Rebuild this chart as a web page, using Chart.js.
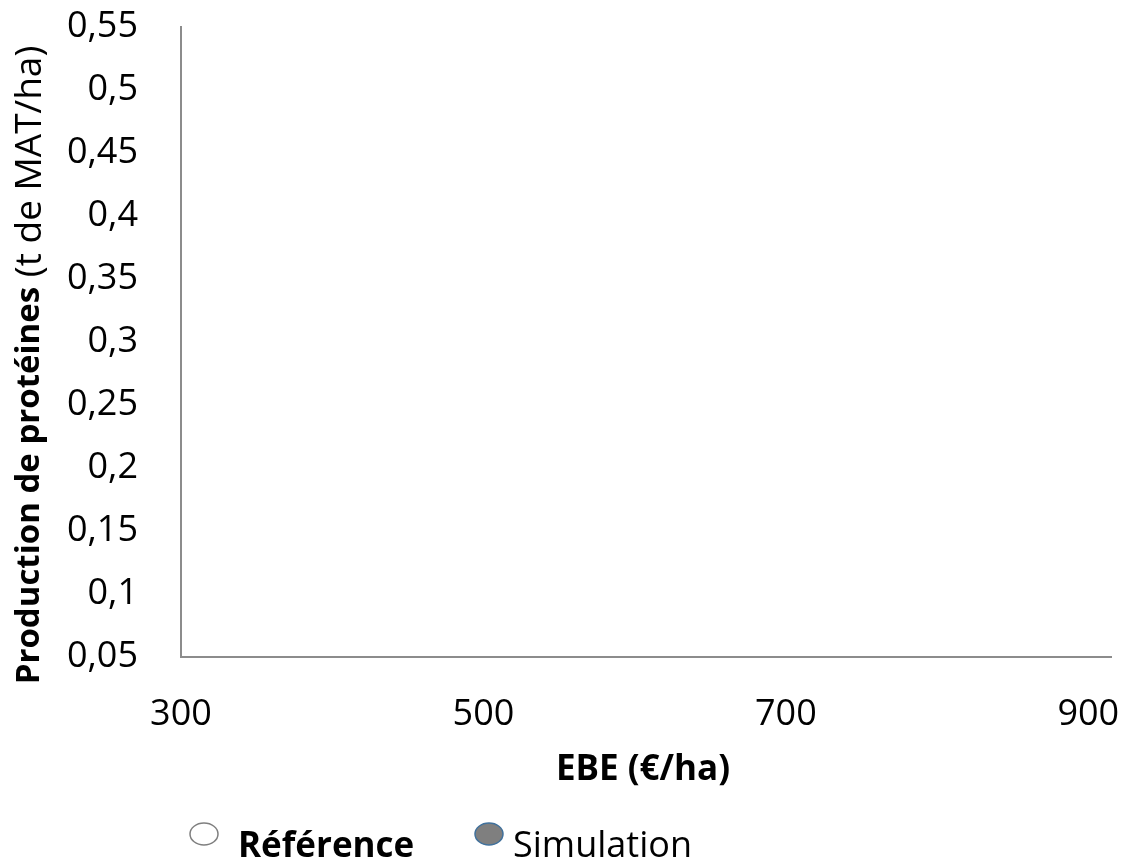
<!DOCTYPE html>
<html>
<head>
<meta charset="utf-8">
<script src="https://cdn.jsdelivr.net/npm/chart.js@4/dist/chart.umd.min.js"></script>
<style>
  html, body { margin: 0; padding: 0; background: #fff; }
  #wrap { width: 1146px; height: 859px; }
</style>
</head>
<body>
<div id="wrap"><canvas id="proteinChart" width="1146" height="859"></canvas></div>
<script>
// tick labels
const ebeTicks = [300, 500, 700, 900];
const protTicks = [0.05, 0.1, 0.15, 0.2, 0.25, 0.3, 0.35, 0.4, 0.45, 0.5, 0.55];

// series: no marks are visible in the plot area
const referenceEBE = [];
const referenceProt = [];
const simulationEBE = [];
const simulationProt = [];

const FONT = "'Open Sans', sans-serif";
const AXIS_COLOR = "#8c8c8c";

const toPoints = (xs, ys) => xs.map((x, i) => ({ x, y: ys[i] }));
const frNum = v => String(Math.round(v * 100) / 100).replace(".", ",");

// titles and legend with mixed bold / regular text
const textPlugin = {
  id: "mixedText",
  afterDraw(chart) {
    const ctx = chart.ctx;
    ctx.save();
    ctx.fillStyle = "#000";
    ctx.textBaseline = "middle";
    ctx.textAlign = "left";

    // y title, rotated
    const boldY = "Production de protéines";
    const normY = " (t de MAT/ha)";
    ctx.save();
    ctx.translate(30, 365);
    ctx.rotate(-Math.PI / 2);
    ctx.font = "bold 33px " + FONT;
    const w1 = ctx.measureText(boldY).width;
    ctx.font = "37px " + FONT;
    const w2 = ctx.measureText(normY).width;
    let x0 = -(w1 + w2) / 2;
    ctx.font = "bold 33px " + FONT;
    ctx.fillText(boldY, x0, 0);
    ctx.font = "37px " + FONT;
    ctx.fillText(normY, x0 + w1, 0);
    ctx.restore();

    // x title
    ctx.font = "bold 35px " + FONT;
    ctx.textAlign = "center";
    ctx.fillText("EBE (€/ha)", 643, 770);

    // legend
    ctx.textAlign = "left";
    const ds = chart.data.datasets;
    const items = [
      { ds: ds[0], mx: 204, tx: 238, bold: true },
      { ds: ds[1], mx: 489, tx: 513, bold: false }
    ];
    items.forEach(it => {
      ctx.beginPath();
      ctx.ellipse(it.mx, 834, 14, 11, 0, 0, Math.PI * 2);
      ctx.fillStyle = it.ds.pointBackgroundColor;
      ctx.fill();
      ctx.lineWidth = it.ds.pointBorderWidth;
      ctx.strokeStyle = it.ds.pointBorderColor;
      ctx.stroke();
      ctx.fillStyle = "#000";
      ctx.font = (it.bold ? "bold 35px " : "36px ") + FONT;
      ctx.fillText(it.ds.label, it.tx, 847);
    });
    ctx.restore();
  }
};

new Chart(document.getElementById("proteinChart"), {
  type: "scatter",
  data: {
    datasets: [{
      label: "Référence",
      data: toPoints(referenceEBE, referenceProt),
      pointBackgroundColor: "#ffffff",
      pointBorderColor: "#7f7f7f",
      pointBorderWidth: 1.5,
      pointRadius: 12
    }, {
      label: "Simulation",
      data: toPoints(simulationEBE, simulationProt),
      pointBackgroundColor: "#7f7f7f",
      pointBorderColor: "#41719c",
      pointBorderWidth: 1.5,
      pointRadius: 12
    }]
  },
  options: {
    responsive: false,
    animation: false,
    layout: { autoPadding: false, padding: { top: 27, right: 35, left: 0, bottom: 0 } },
    plugins: { legend: { display: false }, tooltip: { enabled: false } },
    scales: {
      x: {
        type: "linear",
        min: 300,
        max: 915,
        afterBuildTicks: axis => { axis.ticks = ebeTicks.map(v => ({ value: v })); },
        afterFit: axis => {
          axis.height = 202;
          axis.paddingLeft = 0;
          axis.paddingRight = 0;
        },
        grid: { display: false, drawTicks: false },
        border: { color: AXIS_COLOR, width: 2 },
        ticks: { color: "#000", font: { family: FONT, size: 36 }, padding: 36, maxRotation: 0 }
      },
      y: {
        min: 0.05,
        max: 0.55,
        afterBuildTicks: axis => { axis.ticks = protTicks.map(v => ({ value: v })); },
        afterFit: axis => {
          axis.width = 181;
          axis.paddingTop = 0;
          axis.paddingBottom = 0;
        },
        grid: { display: false, drawTicks: false },
        border: { color: AXIS_COLOR, width: 2 },
        ticks: { color: "#000", font: { family: FONT, size: 36 }, padding: 43, callback: v => frNum(v) }
      }
    }
  },
  plugins: [textPlugin]
});
</script>
</body>
</html>
